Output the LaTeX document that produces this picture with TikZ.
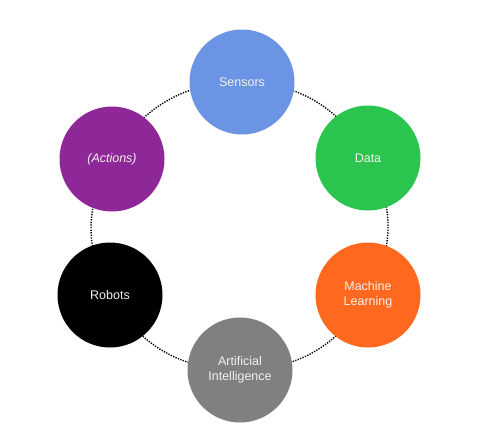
\documentclass[tikz,border=0pt]{standalone}
\usepackage{fontspec}
\setmainfont{Liberation Sans}
\usetikzlibrary{backgrounds}
\definecolor{cblue}{RGB}{108,148,229}
\definecolor{cgreen}{RGB}{42,196,78}
\definecolor{corange}{RGB}{255,104,30}
\definecolor{cgrey}{RGB}{128,128,128}
\definecolor{cpurple}{RGB}{142,40,152}
\definecolor{ctext}{RGB}{245,240,235}
\begin{document}
\begin{tikzpicture}[x=1pt,y=-1pt,
  ball/.style={circle, minimum size=105pt, inner sep=0pt, text=ctext,
    font=\fontsize{12.5}{15}\selectfont, align=center},
  link/.style={draw=black, line width=1.4pt, dash pattern=on 1.3pt off 1.3pt}]
\useasboundingbox (0,0) rectangle (499,440);
\node[ball, fill=cblue]   (sensors) at (242,82)  {\raisebox{-3pt}{Sensors}};
\node[ball, fill=cgreen]  (data)    at (368,158) {\raisebox{-1pt}{Data}};
\node[ball, fill=corange] (ml)      at (368,295) {Machine\\Learning};
\node[ball, fill=cgrey]   (ai)      at (240,370) {Artificial\\Intelligence};
\node[ball, fill=black]   (robots)  at (110,295) {Robots};
\node[ball, fill=cpurple] (actions) at (112,159) {\itshape (Actions)};
\begin{scope}[on background layer]
  \fill[white] (0,0) rectangle (499,440);
  \draw[link] (sensors.center) to[bend left=30] (data.center);
  \draw[link] (data.center) to[bend left=30] (ml.center);
  \draw[link] (ml.center) to[bend left=30] (ai.center);
  \draw[link] (ai.center) to[bend left=30] (robots.center);
  \draw[link] (robots.center) to[bend left=30] (actions.center);
  \draw[link] (actions.center) to[bend left=30] (sensors.center);
\end{scope}
\end{tikzpicture}
\end{document}
